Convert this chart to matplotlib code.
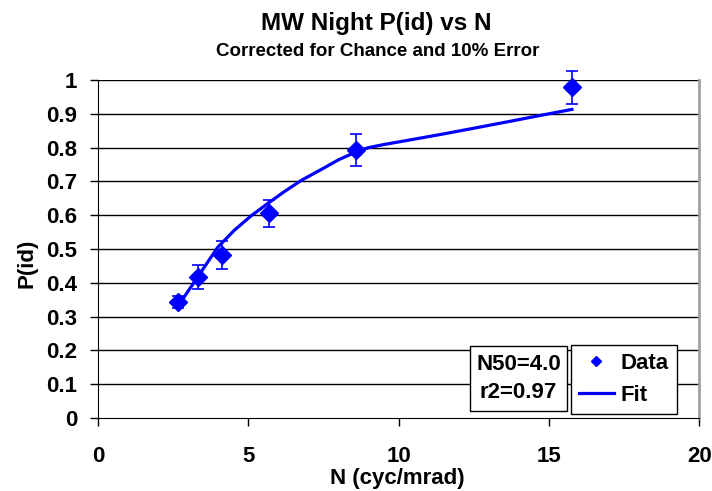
import numpy as np
import matplotlib
matplotlib.use("Agg")
import matplotlib.pyplot as plt
import matplotlib.patches

plt.rcParams['font.family'] = ['Liberation Sans', 'DejaVu Sans']
plt.rcParams['font.weight'] = 'bold'

# data
n_data = [2.67, 3.32, 4.11, 5.70, 8.57, 15.76]
p_data = [0.344, 0.418, 0.482, 0.606, 0.793, 0.978]
p_err = [0.018, 0.035, 0.041, 0.040, 0.046, 0.050]

# fit curve as drawn
n_fit = [2.67, 2.76, 3.32, 3.98, 4.54, 5.09, 5.65, 6.2, 6.76, 7.5, 8.0, 8.6,
         9.0, 9.5, 10.27, 11.4, 12.36, 13.6, 14.7, 15.76]
p_fit = [0.333, 0.344, 0.418, 0.505, 0.556, 0.598, 0.635, 0.670, 0.703,
         0.739, 0.764, 0.788, 0.800, 0.809, 0.821, 0.839, 0.855, 0.876,
         0.895, 0.913]

x_ticks = [0, 5, 10, 15, 20]
y_ticks = [0, 0.1, 0.2, 0.3, 0.4, 0.5, 0.6, 0.7, 0.8, 0.9, 1]
y_labels = ['0', '0.1', '0.2', '0.3', '0.4', '0.5', '0.6', '0.7', '0.8', '0.9', '1']

blue = '#0000ff'
W, H = 712, 491

fig = plt.figure(figsize=(7.12, 4.91), dpi=100)
ax = fig.add_axes([98 / W, 1 - 418 / H, 601.4 / W, 338 / H])

for y in y_ticks[1:]:
    ax.axhline(y, color='black', lw=1.0, zorder=1)

ax.errorbar(n_data, p_data, yerr=p_err, fmt='none', ecolor=blue, elinewidth=1.2,
            capsize=4, capthick=1.2, zorder=3, clip_on=False)
ax.plot(n_data, p_data, 'D', color=blue, ms=9, label='Data', zorder=4, clip_on=False)
ax.plot(n_fit, p_fit, '-', color=blue, lw=2.3, label='Fit', zorder=3)

ax.set_xlim(0, 20)
ax.set_ylim(0, 1)
ax.set_xticks(x_ticks)
ax.set_yticks(y_ticks)
ax.set_yticklabels(y_labels)
ax.tick_params(direction='out', length=6, width=1, labelsize=16)
ax.tick_params(axis='x', pad=14)
ax.tick_params(axis='y', pad=9)
for lab in ax.get_xticklabels() + ax.get_yticklabels():
    lab.set_fontweight('bold')

ax.spines['top'].set_visible(False)
ax.spines['right'].set_color('#a0a0a0')
ax.spines['right'].set_linewidth(2)

fig.text(397.5 / W, 1 - 484 / H, 'N (cyc/mrad)', ha='center', va='baseline',
         fontsize=16, fontweight='bold')
fig.text(27.5 / W, 1 - 263 / H, 'P(id)', ha='center', va='center', rotation=90,
         fontsize=16, fontweight='bold')

fig.text(376 / W, 1 - 30 / H, 'MW Night P(id) vs N', ha='center', va='baseline',
         fontsize=17.5, fontweight='bold')
fig.text(378 / W, 1 - 56 / H, 'Corrected for Chance and 10% Error', ha='center',
         va='baseline', fontsize=13.5, fontweight='bold')

# N50 / r2 box
box = matplotlib.patches.Rectangle((470 / W, 1 - 411 / H), 97 / W, 65 / H,
                                   transform=fig.transFigure, fc='white',
                                   ec='black', lw=1, zorder=5)
fig.patches.append(box)
fig.text(518.5 / W, 1 - 365 / H, 'N50=4.0', ha='center', va='center',
         fontsize=16, fontweight='bold', zorder=6)
fig.text(518.5 / W, 1 - 393 / H, 'r2=0.97', ha='center', va='center',
         fontsize=16, fontweight='bold', zorder=6)

leg = fig.legend(loc='upper left', bbox_to_anchor=(570.7 / W, 1 - 344.7 / H),
                 borderaxespad=0, frameon=True, fancybox=False, edgecolor='black',
                 prop={'size': 16, 'weight': 'bold'}, handlelength=1.6,
                 borderpad=0.36, labelspacing=0.5, handletextpad=0.3,
                 markerscale=0.6, framealpha=1)
leg.get_frame().set_linewidth(1)

fig.savefig('out.png', dpi=100)
